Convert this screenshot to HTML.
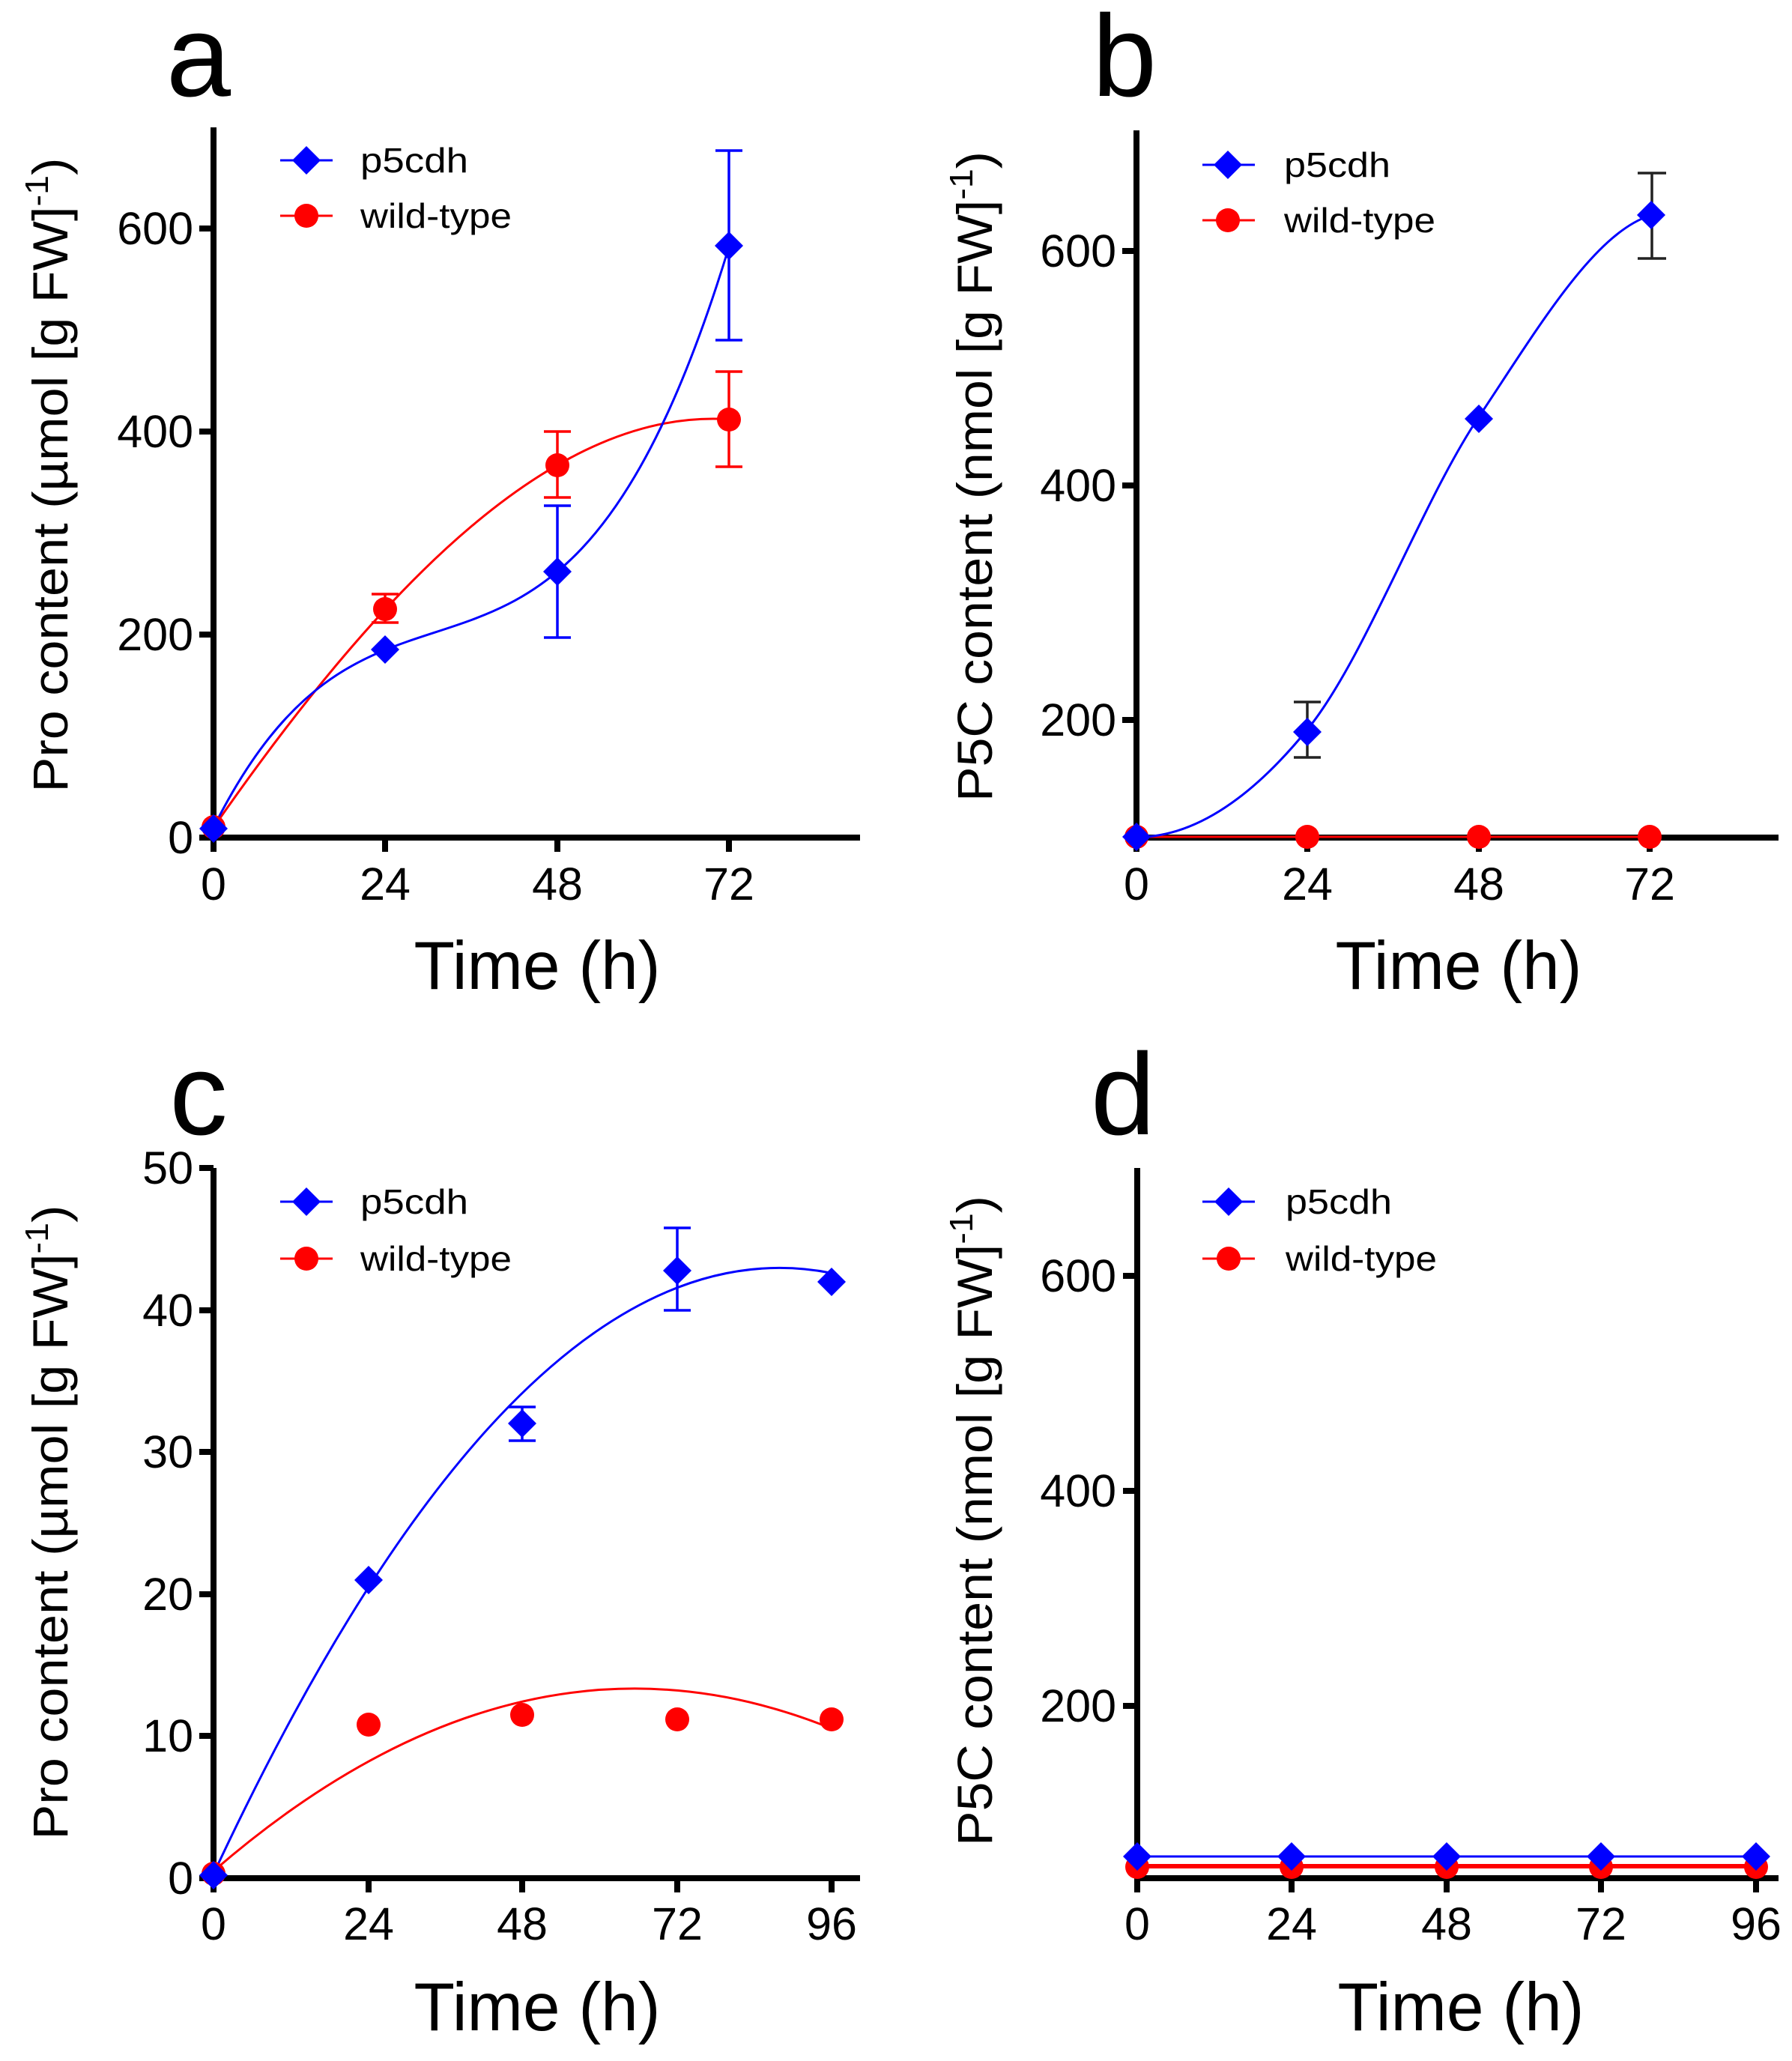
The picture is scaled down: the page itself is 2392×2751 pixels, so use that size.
<!DOCTYPE html>
<html><head><meta charset="utf-8"><style>
html,body{margin:0;padding:0;background:#fff;}
svg{display:block;}
text{font-family:"Liberation Sans",Arial,sans-serif;fill:#000;}
</style></head><body>
<svg width="2392" height="2751" viewBox="0 0 2392 2751" xmlns="http://www.w3.org/2000/svg">
<defs>
<path id="dia" d="M0,-19 L19,0 L0,19 L-19,0 Z" fill="#0000ff"/>
<circle id="cir" r="16" fill="#ff0000"/>
</defs>

<!-- ============ Panel a ============ -->
<text x="265" y="128" font-size="155" text-anchor="middle">a</text>
<g stroke="#000" stroke-width="8" fill="none">
<line x1="285" y1="170" x2="285" y2="1122"/>
<line x1="281" y1="1118" x2="1148" y2="1118"/>
<line x1="285" y1="1118" x2="285" y2="1137"/>
<line x1="514" y1="1118" x2="514" y2="1137"/>
<line x1="744" y1="1118" x2="744" y2="1137"/>
<line x1="973" y1="1118" x2="973" y2="1137"/>
<line x1="266" y1="847" x2="285" y2="847"/>
<line x1="266" y1="576" x2="285" y2="576"/>
<line x1="266" y1="305" x2="285" y2="305"/>
<line x1="266" y1="1118" x2="285" y2="1118"/>
</g>
<g font-size="61" text-anchor="middle">
<text x="285" y="1201">0</text><text x="514" y="1201">24</text><text x="744" y="1201">48</text><text x="973" y="1201">72</text>
</g>
<g font-size="61" text-anchor="end">
<text x="258" y="1139">0</text><text x="258" y="868">200</text><text x="258" y="597">400</text><text x="258" y="326">600</text>
</g>
<text x="717" y="1320" font-size="91" text-anchor="middle" textLength="329" lengthAdjust="spacingAndGlyphs">Time (h)</text>
<text transform="translate(90,634) rotate(-90)" font-size="66" text-anchor="middle" textLength="847" lengthAdjust="spacingAndGlyphs">Pro content (µmol [g FW]<tspan font-size="44" dy="-26">-1</tspan><tspan dy="26">)</tspan></text>
<path d="M285,1104.5 C514.5,774.5 744,544.2 973.5,559.7" stroke="#ff0000" stroke-width="3" fill="none"/>
<path d="M285,1104.5 C514.5,646.5 744,1082.8 973.5,328" stroke="#0000ff" stroke-width="3" fill="none"/>
<g stroke="#ff0000" stroke-width="3.5">
<line x1="514" y1="793" x2="514" y2="831"/><line x1="496" y1="793" x2="532" y2="793"/><line x1="496" y1="831" x2="532" y2="831"/>
<line x1="744" y1="576" x2="744" y2="664"/><line x1="726" y1="576" x2="762" y2="576"/><line x1="726" y1="664" x2="762" y2="664"/>
<line x1="973" y1="496" x2="973" y2="623"/><line x1="955" y1="496" x2="991" y2="496"/><line x1="955" y1="623" x2="991" y2="623"/>
</g>
<g stroke="#0000ff" stroke-width="3.5">
<line x1="744" y1="675" x2="744" y2="851"/><line x1="726" y1="675" x2="762" y2="675"/><line x1="726" y1="851" x2="762" y2="851"/>
<line x1="973" y1="201" x2="973" y2="454"/><line x1="955" y1="201" x2="991" y2="201"/><line x1="955" y1="454" x2="991" y2="454"/>
</g>
<use href="#cir" x="285" y="1104"/><use href="#cir" x="514" y="813"/><use href="#cir" x="744" y="621"/><use href="#cir" x="973" y="560"/>
<use href="#dia" x="285" y="1106"/><use href="#dia" x="514" y="867"/><use href="#dia" x="744" y="763"/><use href="#dia" x="973" y="328"/>
<line x1="374" y1="214" x2="444" y2="214" stroke="#0000ff" stroke-width="3"/><use href="#dia" x="409" y="214"/>
<line x1="374" y1="288" x2="444" y2="288" stroke="#ff0000" stroke-width="3"/><use href="#cir" x="409" y="288"/>
<text x="481" y="230" font-size="46" textLength="144" lengthAdjust="spacingAndGlyphs">p5cdh</text>
<text x="481" y="304" font-size="46" textLength="202" lengthAdjust="spacingAndGlyphs">wild-type</text>

<!-- ============ Panel b ============ -->
<text x="1501" y="128" font-size="155" text-anchor="middle">b</text>
<g stroke="#000" stroke-width="8" fill="none">
<line x1="1517" y1="174" x2="1517" y2="1122"/>
<line x1="1513" y1="1118" x2="2374" y2="1118"/>
<line x1="1517" y1="1118" x2="1517" y2="1137"/>
<line x1="1745" y1="1118" x2="1745" y2="1137"/>
<line x1="1974" y1="1118" x2="1974" y2="1137"/>
<line x1="2202" y1="1118" x2="2202" y2="1137"/>
<line x1="1498" y1="961" x2="1517" y2="961"/>
<line x1="1498" y1="648" x2="1517" y2="648"/>
<line x1="1498" y1="335" x2="1517" y2="335"/>
</g>
<g font-size="61" text-anchor="middle">
<text x="1517" y="1201">0</text><text x="1745" y="1201">24</text><text x="1974" y="1201">48</text><text x="2202" y="1201">72</text>
</g>
<g font-size="61" text-anchor="end">
<text x="1490" y="982">200</text><text x="1490" y="669">400</text><text x="1490" y="356">600</text>
</g>
<text x="1947" y="1320" font-size="91" text-anchor="middle" textLength="329" lengthAdjust="spacingAndGlyphs">Time (h)</text>
<text transform="translate(1324,636) rotate(-90)" font-size="66" text-anchor="middle" textLength="868" lengthAdjust="spacingAndGlyphs">P5C content (nmol [g FW]<tspan font-size="44" dy="-26">-1</tspan><tspan dy="26">)</tspan></text>
<line x1="1517" y1="1117" x2="2202" y2="1117" stroke="#ff0000" stroke-width="3"/>
<path d="M1517,1117.5 C1593.1,1117.5 1669.2,1067 1745.3,973.5 C1821.3,880.1 1897.4,671.2 1973.5,557.2 C2049.6,443.3 2125.6,313.1 2201.7,288" stroke="#0000ff" stroke-width="3" fill="none"/>
<g stroke="#222" stroke-width="3.5">
<line x1="1745" y1="937" x2="1745" y2="1011"/><line x1="1727" y1="937" x2="1763" y2="937"/><line x1="1727" y1="1011" x2="1763" y2="1011"/>
<line x1="2205" y1="231" x2="2205" y2="345"/><line x1="2186" y1="231" x2="2224" y2="231"/><line x1="2186" y1="345" x2="2224" y2="345"/>
</g>
<use href="#cir" x="1745" y="1117"/><use href="#cir" x="1974" y="1117"/><use href="#cir" x="2202" y="1117"/><use href="#cir" x="1517" y="1117"/>
<use href="#dia" x="1517" y="1117"/><use href="#dia" x="1745" y="977"/><use href="#dia" x="1974" y="559"/><use href="#dia" x="2204" y="287"/>
<line x1="1605" y1="220" x2="1675" y2="220" stroke="#0000ff" stroke-width="3"/><use href="#dia" x="1639" y="220"/>
<line x1="1605" y1="294" x2="1675" y2="294" stroke="#ff0000" stroke-width="3"/><use href="#cir" x="1639" y="294"/>
<text x="1714" y="236" font-size="46" textLength="142" lengthAdjust="spacingAndGlyphs">p5cdh</text>
<text x="1714" y="310" font-size="46" textLength="202" lengthAdjust="spacingAndGlyphs">wild-type</text>

<!-- ============ Panel c ============ -->
<text x="265" y="1514" font-size="155" text-anchor="middle">c</text>
<g stroke="#000" stroke-width="8" fill="none">
<line x1="285" y1="1559" x2="285" y2="2511"/>
<line x1="281" y1="2507" x2="1148" y2="2507"/>
<line x1="285" y1="2507" x2="285" y2="2526"/>
<line x1="492" y1="2507" x2="492" y2="2526"/>
<line x1="697" y1="2507" x2="697" y2="2526"/>
<line x1="904" y1="2507" x2="904" y2="2526"/>
<line x1="1110" y1="2507" x2="1110" y2="2526"/>
<line x1="266" y1="2507" x2="285" y2="2507"/>
<line x1="266" y1="2317" x2="285" y2="2317"/>
<line x1="266" y1="2128" x2="285" y2="2128"/>
<line x1="266" y1="1938" x2="285" y2="1938"/>
<line x1="266" y1="1749" x2="285" y2="1749"/>
<line x1="266" y1="1559" x2="285" y2="1559"/>
</g>
<g font-size="61" text-anchor="middle">
<text x="285" y="2589">0</text><text x="492" y="2589">24</text><text x="697" y="2589">48</text><text x="904" y="2589">72</text><text x="1110" y="2589">96</text>
</g>
<g font-size="61" text-anchor="end">
<text x="258" y="2528">0</text><text x="258" y="2338">10</text><text x="258" y="2149">20</text><text x="258" y="1959">30</text><text x="258" y="1770">40</text><text x="258" y="1580">50</text>
</g>
<text x="717" y="2710" font-size="91" text-anchor="middle" textLength="329" lengthAdjust="spacingAndGlyphs">Time (h)</text>
<text transform="translate(90,2032) rotate(-90)" font-size="66" text-anchor="middle" textLength="847" lengthAdjust="spacingAndGlyphs">Pro content (µmol [g FW]<tspan font-size="44" dy="-26">-1</tspan><tspan dy="26">)</tspan></text>
<path d="M285,2497.5 Q697.5,2140 1110,2307.2" stroke="#ff0000" stroke-width="3" fill="none"/>
<path d="M285,2501.3 Q697.5,1617.8 1110,1699.3" stroke="#0000ff" stroke-width="3" fill="none"/>
<g stroke="#0000ff" stroke-width="3.5">
<line x1="697" y1="1878" x2="697" y2="1923"/><line x1="679" y1="1878" x2="715" y2="1878"/><line x1="679" y1="1923" x2="715" y2="1923"/>
<line x1="904" y1="1639" x2="904" y2="1749"/><line x1="886" y1="1639" x2="922" y2="1639"/><line x1="886" y1="1749" x2="922" y2="1749"/>
</g>
<use href="#cir" x="285" y="2501"/><use href="#cir" x="492" y="2302"/><use href="#cir" x="697" y="2289"/><use href="#cir" x="904" y="2295"/><use href="#cir" x="1110" y="2295"/>
<use href="#dia" x="285" y="2503"/><use href="#dia" x="492" y="2109"/><use href="#dia" x="697" y="1900"/><use href="#dia" x="904" y="1696"/><use href="#dia" x="1110" y="1711"/>
<line x1="374" y1="1604" x2="444" y2="1604" stroke="#0000ff" stroke-width="3"/><use href="#dia" x="409" y="1604"/>
<line x1="374" y1="1680" x2="444" y2="1680" stroke="#ff0000" stroke-width="3"/><use href="#cir" x="409" y="1680"/>
<text x="481" y="1620" font-size="46" textLength="144" lengthAdjust="spacingAndGlyphs">p5cdh</text>
<text x="481" y="1696" font-size="46" textLength="202" lengthAdjust="spacingAndGlyphs">wild-type</text>

<!-- ============ Panel d ============ -->
<text x="1499" y="1514" font-size="155" text-anchor="middle">d</text>
<g stroke="#000" stroke-width="8" fill="none">
<line x1="1518" y1="1559" x2="1518" y2="2511"/>
<line x1="1514" y1="2507" x2="2374" y2="2507"/>
<line x1="1518" y1="2507" x2="1518" y2="2526"/>
<line x1="1724" y1="2507" x2="1724" y2="2526"/>
<line x1="1931" y1="2507" x2="1931" y2="2526"/>
<line x1="2137" y1="2507" x2="2137" y2="2526"/>
<line x1="2344" y1="2507" x2="2344" y2="2526"/>
<line x1="1499" y1="2277" x2="1518" y2="2277"/>
<line x1="1499" y1="1990" x2="1518" y2="1990"/>
<line x1="1499" y1="1703" x2="1518" y2="1703"/>
</g>
<g font-size="61" text-anchor="middle">
<text x="1518" y="2589">0</text><text x="1724" y="2589">24</text><text x="1931" y="2589">48</text><text x="2137" y="2589">72</text><text x="2344" y="2589">96</text>
</g>
<g font-size="61" text-anchor="end">
<text x="1490" y="2298">200</text><text x="1490" y="2011">400</text><text x="1490" y="1724">600</text>
</g>
<text x="1950" y="2710" font-size="91" text-anchor="middle" textLength="329" lengthAdjust="spacingAndGlyphs">Time (h)</text>
<text transform="translate(1324,2030) rotate(-90)" font-size="66" text-anchor="middle" textLength="868" lengthAdjust="spacingAndGlyphs">P5C content (nmol [g FW]<tspan font-size="44" dy="-26">-1</tspan><tspan dy="26">)</tspan></text>
<line x1="1518" y1="2491" x2="2344" y2="2491" stroke="#ff0000" stroke-width="6"/>
<line x1="1518" y1="2478" x2="2344" y2="2478" stroke="#0000ff" stroke-width="3"/>
<use href="#cir" x="1518" y="2492"/><use href="#cir" x="1724" y="2492"/><use href="#cir" x="1931" y="2492"/><use href="#cir" x="2137" y="2492"/><use href="#cir" x="2344" y="2492"/>
<use href="#dia" x="1518" y="2478"/><use href="#dia" x="1724" y="2478"/><use href="#dia" x="1931" y="2478"/><use href="#dia" x="2137" y="2478"/><use href="#dia" x="2344" y="2478"/>
<line x1="1605" y1="1604" x2="1675" y2="1604" stroke="#0000ff" stroke-width="3"/><use href="#dia" x="1640" y="1604"/>
<line x1="1605" y1="1680" x2="1675" y2="1680" stroke="#ff0000" stroke-width="3"/><use href="#cir" x="1640" y="1680"/>
<text x="1716" y="1620" font-size="46" textLength="142" lengthAdjust="spacingAndGlyphs">p5cdh</text>
<text x="1716" y="1696" font-size="46" textLength="202" lengthAdjust="spacingAndGlyphs">wild-type</text>
</svg>
</body></html>
